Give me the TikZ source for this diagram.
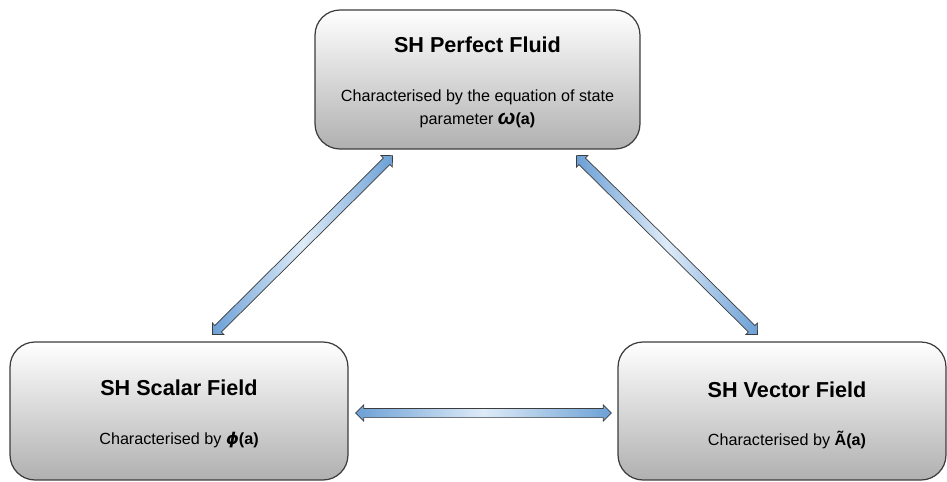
\documentclass[tikz,border=0pt]{standalone}
\usepackage{fontspec}
\setmainfont{Liberation Sans}
\newfontfamily\greekfont{DejaVu Sans}
\usetikzlibrary{calc,shapes.arrows}
\definecolor{linkblue}{RGB}{108,160,214}
\definecolor{linklight}{RGB}{222,235,247}
\definecolor{boxline}{RGB}{60,60,60}
\definecolor{boxgray}{RGB}{176,176,176}
\tikzset{
  modelbox/.style={draw=boxline, line width=0.7pt, rounded corners=0.5cm,
    top color=white, bottom color=boxgray, inner sep=0pt},
  titletext/.style={font=\bfseries\fontsize{12.3}{14}\selectfont, inner sep=0pt},
  bodytext/.style={font=\fontsize{9.2}{13}\selectfont, align=center, inner sep=0pt},
  linkarrow/.style={double arrow, draw=boxline, line width=0.4pt,
    inner xsep=0pt, inner ysep=0.085cm, double arrow head extend=0.07cm,
    double arrow tip angle=90, left color=linkblue, right color=linkblue,
    middle color=linklight}
}
\newcommand{\linkboth}[3]{%
  \path let \p1=($(#2)-(#1)$), \n1={atan2(\y1,\x1)}, \n2={veclen(\x1,\y1)} in
    node[linkarrow, minimum height=\n2, rotate=\n1] (#3) at ($(#1)!0.5!(#2)$) {};}

\begin{document}
\begin{tikzpicture}[x=0.02cm, y=-0.02cm]
			%%%%% START %%%%%
			\useasboundingbox (0, 0) rectangle (947, 481);
			
			\node[modelbox, minimum width=6.5cm, minimum height=2.78cm] (fluid) at (477.5, 79.5) {};
			\node[modelbox, minimum width=6.76cm, minimum height=2.76cm] (scalar) at (179, 411) {};
			\node[modelbox, minimum width=6.56cm, minimum height=2.76cm] (vector) at (782, 411) {};
			
			\node[titletext] (fluidtitle) at ($(fluid.center)+(0, -34.5)$) {SH Perfect Fluid};
			\node[bodytext] (fluidtext) at ($(fluid.center)+(0, 29.5)$) {Characterised by the equation of state\\parameter \textbf{\textit{\fontsize{12}{12}\selectfont ω}(a)}};
			
			\node[titletext] (scalartitle) at ($(scalar.center)+(0, -23)$) {SH Scalar Field};
			\node[bodytext] (scalartext) at ($(scalar.center)+(0, 29)$) {Characterised by \textbf{{\greekfont\itshape ϕ}(a)}};
			
			\node[titletext] (vectortitle) at ($(vector.center)+(5, -21)$) {SH Vector Field};
			\node[bodytext] (vectortext) at ($(vector.center)+(5, 29)$) {Characterised by \textbf{Ã(a)}};
			
			% arrow ends
			\coordinate (fluidleft) at ($(fluid.south west)+(78, 6)$);
			\coordinate (fluidright) at ($(fluid.south west)+(262, 6)$);
			\coordinate (scalartop) at ($(scalar.north west)+(203, -7)$);
			\coordinate (scalarright) at ($(scalar.east)+(7, 2)$);
			\coordinate (vectortop) at ($(vector.north west)+(140, -7)$);
			\coordinate (vectorleft) at ($(vector.west)+(-6, 2)$);
			
			\linkboth{scalartop}{fluidleft}{linkA}
			\linkboth{fluidright}{vectortop}{linkB}
			\linkboth{scalarright}{vectorleft}{linkC}
			
			%%%%% END %%%%%
\end{tikzpicture}
\end{document}
